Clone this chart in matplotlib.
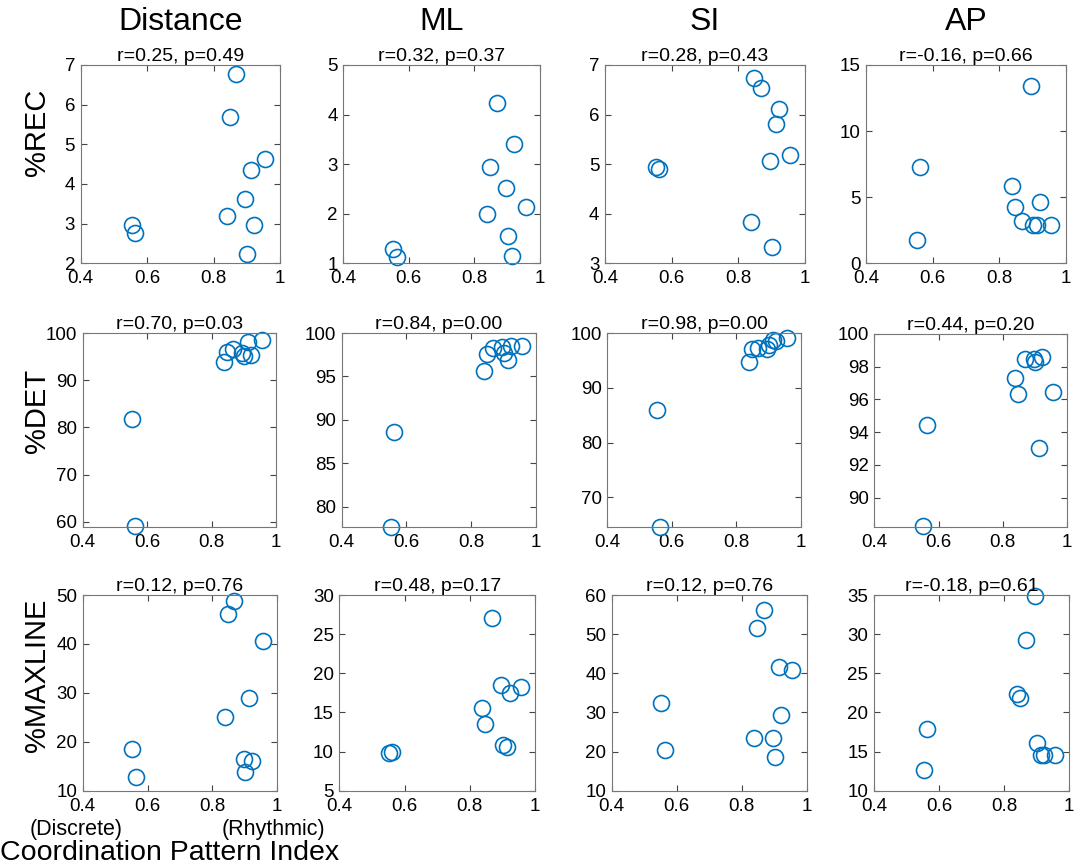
import matplotlib.pyplot as plt

plt.rcParams['font.family'] = ['Liberation Sans', 'DejaVu Sans']

# coordination pattern index, one value per subject
cpi = [0.553, 0.563, 0.839, 0.848, 0.868, 0.896, 0.901, 0.914, 0.922, 0.956]

columns = ['Distance', 'ML', 'SI', 'AP']
rows = ['%REC', '%DET', '%MAXLINE']

rec_distance = [2.97, 2.77, 3.20, 5.70, 6.77, 3.62, 2.24, 4.35, 2.96, 4.62]
rec_ml = [1.28, 1.13, 1.99, 2.94, 4.23, 2.51, 1.56, 1.155, 3.40, 2.14]
rec_si = [4.94, 4.91, 3.83, 6.73, 6.54, 5.06, 3.32, 5.81, 6.11, 5.19]
rec_ap = [1.74, 7.29, 5.87, 4.29, 3.23, 13.41, 2.90, 2.87, 4.61, 2.87]

det_distance = [81.8, 59.15, 93.9, 95.9, 96.6, 95.75, 95.2, 98.0, 95.4, 98.6]
det_ml = [77.7, 88.65, 95.6, 97.6, 98.27, 98.35, 97.7, 96.9, 98.46, 98.54]
det_si = [85.98, 64.63, 94.76, 97.07, 97.26, 97.07, 97.87, 98.78, 98.6, 99.09]
det_ap = [88.28, 94.44, 97.34, 96.33, 98.48, 98.46, 98.26, 93.02, 98.58, 96.43]

maxline_distance = [18.55, 12.74, 25.04, 46.1, 48.7, 16.43, 13.83, 29.0, 16.15, 40.56]
maxline_ml = [9.87, 10.0, 15.56, 13.5, 27.09, 18.55, 10.85, 10.64, 17.48, 18.25]
maxline_si = [32.4, 20.43, 23.42, 51.45, 56.15, 23.42, 18.55, 41.54, 29.23, 40.77]
maxline_ap = [12.66, 17.85, 22.31, 21.88, 29.21, 34.87, 16.13, 14.5, 14.5, 14.59]

r_vals = [[0.25, 0.32, 0.28, -0.16],
          [0.70, 0.84, 0.98, 0.44],
          [0.12, 0.48, 0.12, -0.18]]
p_vals = [[0.49, 0.37, 0.43, 0.66],
          [0.03, 0.00, 0.00, 0.20],
          [0.76, 0.17, 0.76, 0.61]]

ydata = [[rec_distance, rec_ml, rec_si, rec_ap],
         [det_distance, det_ml, det_si, det_ap],
         [maxline_distance, maxline_ml, maxline_si, maxline_ap]]

ylims = [[(2, 7), (1, 5), (3, 7), (0, 15)],
         [(58.9, 100), (77.7, 100), (64.6, 100), (88.2, 100)],
         [(10, 50), (5, 30), (10, 60), (10, 35)]]
yticks = [[range(2, 8), range(1, 6), range(3, 8), range(0, 16, 5)],
          [range(60, 101, 10), range(80, 101, 5), range(70, 101, 10), range(90, 101, 2)],
          [range(10, 51, 10), range(5, 31, 5), range(10, 61, 10), range(10, 36, 5)]]

# axes boxes in pixels: left, right, top, bottom
boxes = [[(80.7, 280, 65, 263.3), (343.3, 540, 65, 263.3), (605, 805, 65, 263.3), (866, 1066, 65, 263.3)],
         [(82.7, 276, 333, 527), (341.7, 536, 333, 527), (607.3, 801, 333, 527), (874.3, 1067, 334, 527)],
         [(82.7, 277.3, 595, 790.7), (339.3, 535, 595, 790.7), (611.7, 806.7, 595, 790.7), (874, 1069.3, 595, 790.7)]]
# vertical centre of each row label, pixels from top
row_label_y = [132, 411, 675]

W, H = 1084, 867
fig = plt.figure(figsize=(W / 100, H / 100), dpi=100)
blue = '#0072BD'

for i in range(3):
    for j in range(4):
        l, r, t, b = boxes[i][j]
        ax = fig.add_axes([l / W, 1 - b / H, (r - l) / W, (b - t) / H])
        ax.plot(cpi, ydata[i][j], 'o', mfc='none', mec=blue, ms=11.5, mew=1.2, clip_on=False)
        ax.set_xlim(0.4, 1)
        ax.set_ylim(*ylims[i][j])
        ax.set_xticks([0.4, 0.6, 0.8, 1])
        ax.set_xticklabels(['0.4', '0.6', '0.8', '1'])
        ax.set_yticks(list(yticks[i][j]))
        ax.tick_params(direction='in', top=True, right=True, labelsize=13.5,
                       length=4, width=0.8, color='#444444')
        ax.tick_params(axis='x', pad=5)
        ax.tick_params(axis='y', pad=4)
        for s in ax.spines.values():
            s.set_color('#777777')
            s.set_linewidth(0.8)
        ax.set_title('r=%.2f, p=%.2f' % (r_vals[i][j], p_vals[i][j]), fontsize=14, pad=3)
        if i == 0:
            fig.text((l + r) / 2 / W, 1 - 22 / H, columns[j], fontsize=23, ha='center', va='center')
        if j == 0:
            fig.text(37 / W, 1 - row_label_y[i] / H, rows[i], fontsize=21, rotation=90,
                     ha='center', va='center')

fig.text(30 / W, 1 - 830 / H, '(Discrete)', fontsize=15.5, ha='left', va='center')
fig.text(222 / W, 1 - 830 / H, '(Rhythmic)', fontsize=15.5, ha='left', va='center')
fig.text(0, 1 - 853 / H, 'Coordination Pattern Index', fontsize=20.5, ha='left', va='center')

plt.savefig('out.png', dpi=100)
